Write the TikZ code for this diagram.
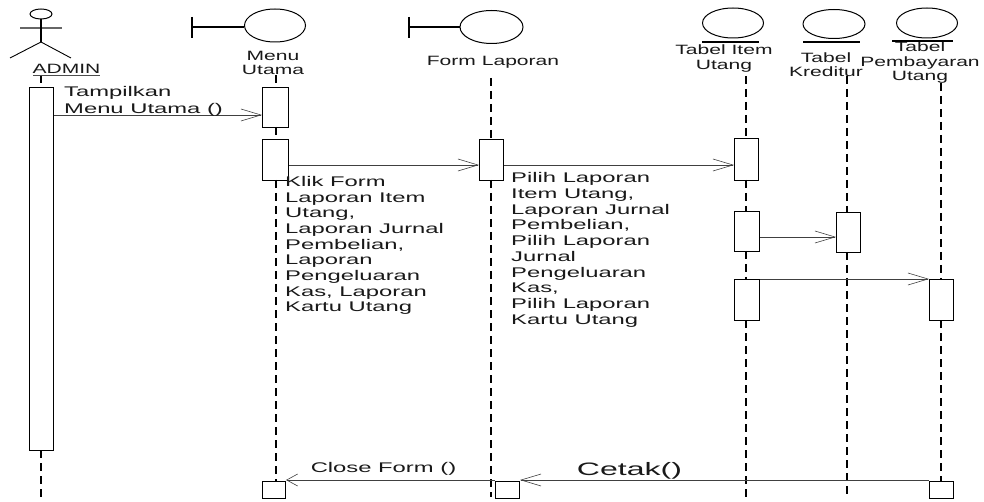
\documentclass[tikz,border=0pt]{standalone}
\usepackage{fontspec}
\setmainfont[FakeStretch=1.56]{Liberation Sans}
\newfontfamily\notefont[FakeStretch=1.7]{Liberation Sans}
\newfontfamily\cetakfont[FakeStretch=1.78]{Liberation Sans}
\usetikzlibrary{arrows.meta,shapes.geometric}
\tikzset{
  x=1pt,y=-1pt,
  bar/.style={draw=black,line width=1pt,fill=white,minimum width=#1,inner sep=0pt,anchor=north west,rectangle},
  life/.style={draw=black,line width=1.5pt,dash pattern=on 8pt off 5pt},
  msg/.style={draw=black!75,line width=.7pt,-{Straight Barb[length=20pt,width=12pt,line width=.6pt]}},
  msgshort/.style={draw=black!75,line width=.7pt,-{Straight Barb[length=11pt,width=12pt,line width=.6pt]}},
  lbl/.style={inner sep=0pt,align=center,font=\fontsize{13.5}{14.5}\selectfont,text=black!90},
  note/.style={inner sep=0pt,align=left,anchor=north west,font=\notefont\fontsize{14}{15.7}\selectfont,text=black!90},
  shape line/.style={draw=black,line width=1.1pt},
  circ/.style={draw=black,line width=1pt,ellipse,fill=white}
}
\newcommand{\actbar}[5]{\node[bar=#4pt,minimum height=#5pt] (#1) at (#2,#3) {};}
\begin{document}
\begin{tikzpicture}
\useasboundingbox (0,0) rectangle (984,502);
% end coordinates of lifelines
\coordinate (endA) at (41,497);
\coordinate (endM) at (276,481);
\coordinate (endF) at (491,497);
\coordinate (endK) at (847,497);
% labels
\node[lbl] (admin) at (66.5,69) {ADMIN};
\node[lbl] (menu) at (273,63) {Menu\\Utama};
\node[lbl] (form) at (493,62) {Form Laporan};
\node[lbl] (item) at (724,58.5) {Tabel Item\\Utang};
\node[lbl] (kred) at (826,64.5) {Tabel\\Kreditur};
\node[lbl] (pemb) at (920,63) {Tabel\\Pembayaran\\Utang};
% activations
\actbar{a0}{29}{87}{24}{363}
\actbar{m1}{262}{87}{26}{40}
\actbar{m2}{262}{139}{26}{41}
\actbar{m3}{262}{481}{23}{16.5}
\actbar{f1}{479}{139}{24}{41}
\actbar{f2}{495}{481}{24}{16.5}
\actbar{i1}{734}{138}{24}{42}
\actbar{i2}{734}{211}{25}{40}
\actbar{i3}{734}{279}{25}{41}
\actbar{k1}{836}{212}{24}{40}
\actbar{p1}{929}{279}{24}{41}
\actbar{p2}{929}{481}{24}{16.5}
% lifelines
\draw[life] (41,75) -- (a0.north -| 41,0);
\draw[life] (41,450) -- (endA);
\draw[life] (276,75) -- (m1.north -| 276,0);
\draw[life] (276,127) -- (m2.north -| 276,0);
\draw[life] (276,180) -- (endM);
\draw[life] (491,78) -- (f1.north -| 491,0);
\draw[life] (491,180) -- (endF);
\draw[life] (746,76) -- (i1.north -| 746,0);
\draw[life] (746,180) -- (i2.north -| 746,0);
\draw[life] (746,251) -- (i3.north -| 746,0);
\draw[life] (746,320) -- (746,497);
\draw[life] (847,76) -- (k1.north -| 847,0);
\draw[life] (847,252) -- (endK);
\draw[life] (941,83) -- (p1.north -| 941,0);
\draw[life] (941,320) -- (p2.north -| 941,0);
% actor
\draw[shape line,draw=black!60] (20,28) -- (62,28);
\node[circ,minimum width=22pt,minimum height=10pt,inner sep=0pt] (head) at (41,14) {};
\coordinate (hip) at (41,42);
\draw[shape line] (head.south) -- (hip);
\draw[line width=.9pt] (10,58) -- (hip) -- (71,58);
\draw[line width=.9pt,draw=black!70] (33,75) -- (100,75);
% boundaries
\node[circ,minimum width=61pt,minimum height=33pt,inner sep=0pt] (bm) at (275,25.5) {};
\coordinate (bmt) at (192,27);
\draw[shape line] (bmt) -- (bm.west |- bmt);
\draw[shape line] (192,17) -- (192,38);
\node[circ,minimum width=63pt,minimum height=33pt,inner sep=0pt] (bf) at (491.5,27) {};
\coordinate (bft) at (409,27);
\draw[shape line] (bft) -- (bf.west);
\draw[shape line] (409,17) -- (409,38);
% entities
\node[circ,minimum width=61pt,minimum height=30pt,inner sep=0pt] (ei) at (733,23) {};
\draw[shape line] (702,42) -- (759,42);
\node[circ,minimum height=29pt,inner sep=0pt,minimum width=62pt] (ek) at (834,24) {};
\draw[shape line] (803,42) -- (860,42);
\node[circ,minimum width=61pt,minimum height=30pt,inner sep=0pt] (ep) at (927,23) {};
\draw[shape line] (892,41) -- (953,41);
% messages
\draw[msg] (a0.east |- 0,115) -- (m1.west |- 0,115);
\draw[msg] (m2.east |- 0,165) -- (f1.west |- 0,165);
\draw[msg] (f1.east |- 0,165) -- (i1.west |- 0,165);
\draw[msg] (i2.east |- 0,237) -- (k1.west |- 0,237);
\draw[msg] (i3.east |- 0,279) -- (p1.west |- 0,279);
\draw[msg] (p2.west |- 0,480) -- (f2.east |- 0,480);
\draw[msgshort] (f2.west |- 0,480) -- (m3.east |- 0,480);
% texts
\node[note,font=\notefont\fontsize{14}{17.5}\selectfont] (t1) at (64,86) {Tampilkan\\Menu Utama ()};
\node[note] (t2) at (285,176) {Klik Form\\Laporan Item\\Utang,\\Laporan Jurnal\\Pembelian,\\Laporan\\Pengeluaran\\Kas, Laporan\\Kartu Utang};
\node[note] (t3) at (511,172.5) {Pilih Laporan\\Item Utang,\\Laporan Jurnal\\Pembelian,\\Pilih Laporan\\Jurnal\\Pengeluaran\\Kas,\\Pilih Laporan\\Kartu Utang};
\node[lbl,font=\notefont\fontsize{14}{15}\selectfont] (t4) at (383.5,469) {Close Form ()};
\node[lbl,font=\cetakfont\fontsize{18}{20}\selectfont] (t5) at (629.5,471) {Cetak()};
\end{tikzpicture}
\end{document}
